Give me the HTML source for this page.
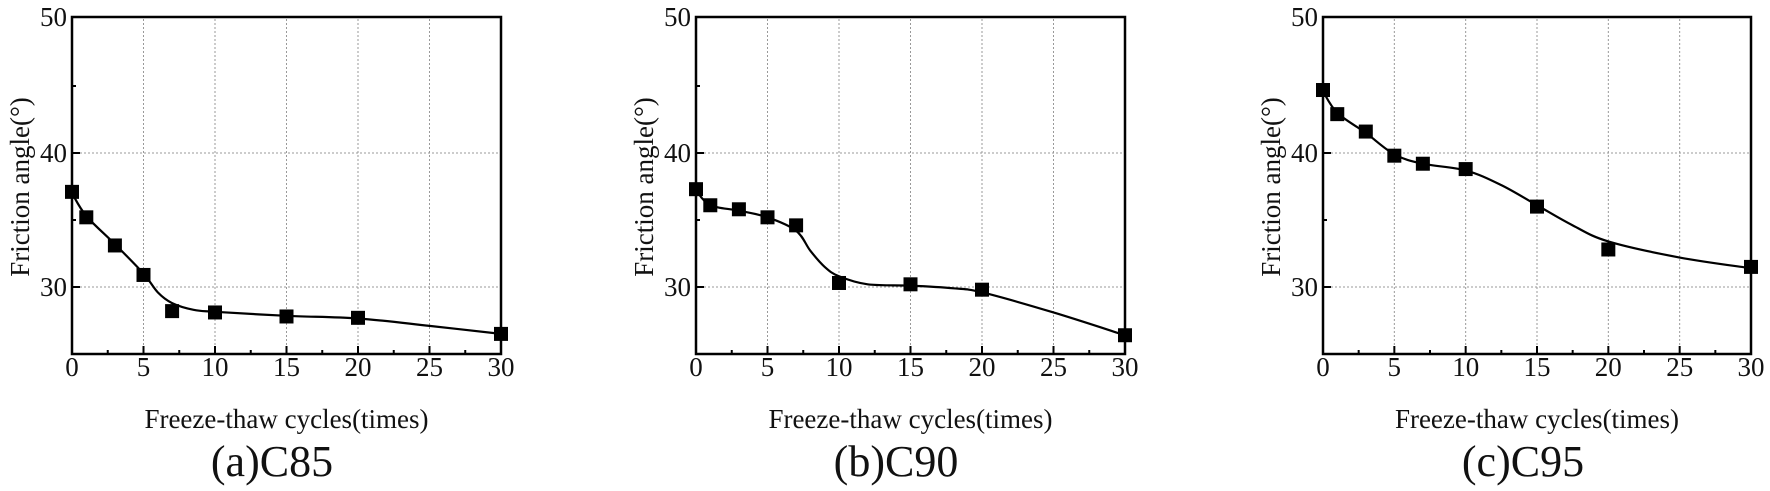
<!DOCTYPE html>
<html><head><meta charset="utf-8"><style>
html,body{margin:0;padding:0;background:#fff;}
svg{display:block;}
text{font-family:"Liberation Serif",serif;fill:#111;}
</style></head><body>
<svg id="s" width="1770" height="491" viewBox="0 0 1770 491" xmlns="http://www.w3.org/2000/svg">
<g id="g"></g>
<g font-size="27" text-anchor="middle">
<text x="72" y="376">0</text><text x="143.5" y="376">5</text><text x="215" y="376">10</text><text x="286.5" y="376">15</text><text x="358" y="376">20</text><text x="429.5" y="376">25</text><text x="501" y="376">30</text>
<text x="696" y="376">0</text><text x="767.5" y="376">5</text><text x="839" y="376">10</text><text x="910.5" y="376">15</text><text x="982" y="376">20</text><text x="1053.5" y="376">25</text><text x="1125" y="376">30</text>
<text x="1323" y="376">0</text><text x="1394.3" y="376">5</text><text x="1465.7" y="376">10</text><text x="1537" y="376">15</text><text x="1608.3" y="376">20</text><text x="1679.7" y="376">25</text><text x="1751" y="376">30</text>
</g>
<g font-size="27" text-anchor="end">
<text x="67" y="26">50</text><text x="67" y="162">40</text><text x="67" y="296">30</text>
<text x="691" y="26">50</text><text x="691" y="162">40</text><text x="691" y="296">30</text>
<text x="1318" y="26">50</text><text x="1318" y="162">40</text><text x="1318" y="296">30</text>
</g>
<g font-size="27" text-anchor="middle">
<text transform="translate(29,187) rotate(-90)">Friction angle(°)</text>
<text transform="translate(653,187) rotate(-90)">Friction angle(°)</text>
<text transform="translate(1280,187) rotate(-90)">Friction angle(°)</text>
<text x="286.5" y="428">Freeze-thaw cycles(times)</text>
<text x="910.5" y="428">Freeze-thaw cycles(times)</text>
<text x="1537" y="428">Freeze-thaw cycles(times)</text>
<text x="272" y="476" font-size="44">(a)C85</text>
<text x="896" y="476" font-size="44">(b)C90</text>
<text x="1523" y="476" font-size="44">(c)C95</text>
</g>
</svg>
<script>
(function(){
var NS="http://www.w3.org/2000/svg",g=document.getElementById("g");
function el(t,a){var e=document.createElementNS(NS,t);for(var k in a)e.setAttribute(k,a[k]);g.appendChild(e);return e;}
var panels=[
 {L:72,R:501,pts:[[0,37.1],[1,35.2],[3,33.1],[5,30.9],[7,28.2],[10,28.1],[15,27.8],[20,27.7],[30,26.5]],
  cur:[[0,37.0],[1,35.3],[3,33.2],[5,31.0],[6,29.6],[7,28.8],[8.5,28.3],[10,28.15],[15,27.85],[20,27.65],[25,27.1],[30,26.5]]},
 {L:696,R:1125,pts:[[0,37.3],[1,36.1],[3,35.8],[5,35.2],[7,34.6],[10,30.3],[15,30.2],[20,29.8],[30,26.4]],
  cur:[[0,37.2],[1,36.1],[3,35.7],[5,35.2],[7,34.2],[8,32.7],[9,31.5],[10,30.8],[12,30.2],[15,30.1],[18,29.9],[20,29.6],[25,28.1],[30,26.4]]},
 {L:1323,R:1751,pts:[[0,44.7],[1,42.9],[3,41.6],[5,39.8],[7,39.2],[10,38.8],[15,36.0],[20,32.8],[30,31.5]],
  cur:[[0,44.6],[1,43.0],[3,41.5],[5,39.9],[7,39.2],[10,38.7],[12.5,37.6],[15,36.1],[17.5,34.6],[20,33.4],[25,32.2],[30,31.4]]}
];
var T=19,B=354;
function Y(v){return 287-(v-30)*13.4;}
panels.forEach(function(p){
 var W=p.R-p.L;function X(v){return p.L+v*W/30;}
 for(var i=1;i<6;i++){var x=X(i*5);el("line",{x1:x,y1:T,x2:x,y2:B,stroke:"#999","stroke-width":1,"stroke-dasharray":"2,2"});}
 [30,40].forEach(function(v){el("line",{x1:p.L,y1:Y(v),x2:p.R,y2:Y(v),stroke:"#999","stroke-width":1,"stroke-dasharray":"2,2"});});
 for(var i=1;i<12;i++){var x=X(i*2.5);el("line",{x1:x,y1:B,x2:x,y2:B-(i%2?4:8),stroke:"#000","stroke-width":2});}
 [45,35].forEach(function(v){el("line",{x1:p.L,y1:Y(v),x2:p.L+4,y2:Y(v),stroke:"#000","stroke-width":2});});
 [40,30].forEach(function(v){el("line",{x1:p.L,y1:Y(v),x2:p.L+8,y2:Y(v),stroke:"#000","stroke-width":2});});
 el("rect",{x:p.L,y:T-2,width:W,height:B-T+2,fill:"none",stroke:"#000","stroke-width":2.5});
 var c=p.cur.map(function(q){return [X(q[0]),Y(q[1])];});
 var d="M"+c[0][0]+","+c[0][1];
 for(var i=0;i<c.length-1;i++){
  var p0=c[i-1]||c[i],p1=c[i],p2=c[i+1],p3=c[i+2]||c[i+1];
  var c1=[p1[0]+(p2[0]-p0[0])/6,p1[1]+(p2[1]-p0[1])/6],c2=[p2[0]-(p3[0]-p1[0])/6,p2[1]-(p3[1]-p1[1])/6];
  d+=" C"+c1+" "+c2+" "+p2;
 }
 el("path",{d:d,fill:"none",stroke:"#000","stroke-width":2.2});
 p.pts.forEach(function(q){el("rect",{x:X(q[0])-7,y:Y(q[1])-7,width:14,height:14,fill:"#000"});});
});
})();
</script>
</body></html>
